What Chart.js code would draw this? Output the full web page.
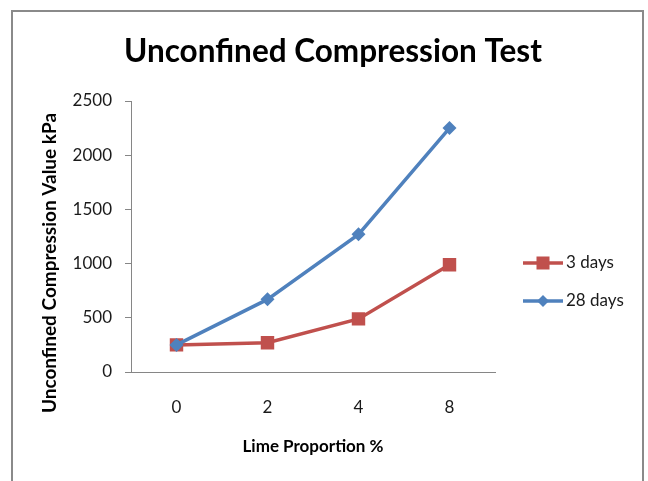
<!DOCTYPE html>
<html>
<head>
<meta charset="utf-8">
<script src="https://cdn.jsdelivr.net/npm/chart.js@4/dist/chart.umd.min.js"></script>
<style>
  html, body { margin: 0; padding: 0; background: #fff; }
  #wrap { width: 648px; height: 481px; position: relative; }
</style>
</head>
<body>
<div id="wrap"><canvas id="c" width="648" height="481"></canvas></div>
<script>
const categories = ['0', '2', '4', '8'];
const series3Days = [250, 270, 490, 990];
const series28Days = [250, 670, 1270, 2250];
const seriesNames = ['3 days', '28 days'];
const yMin = 0, yMax = 2500, yStep = 500;
const chartTitle = 'Unconfined Compression Test';
const xTitle = 'Lime Proportion %';
const yTitle = 'Unconfined Compression Value kPa';

const RED = '#C0504D';
const BLUE = '#4F81BD';
const AXIS = '#868686';
const FONT = 'Lato, "Open Sans", sans-serif';

const framePlugin = {
  id: 'frame',
  beforeDraw(chart) {
    const ctx = chart.ctx;
    ctx.save();
    ctx.strokeStyle = '#8a8a8a';
    ctx.lineWidth = 2;
    ctx.beginPath();
    ctx.moveTo(12, chart.height);
    ctx.lineTo(12, 11);
    ctx.lineTo(643, 11);
    ctx.lineTo(643, chart.height);
    ctx.stroke();
    ctx.restore();
  },
  afterDraw(chart) {
    const ctx = chart.ctx;
    const area = chart.chartArea;
    // chart title
    ctx.save();
    ctx.fillStyle = '#000';
    ctx.font = 'bold 31.5px ' + FONT;
    ctx.textAlign = 'center';
    ctx.textBaseline = 'alphabetic';
    ctx.fillText(chartTitle, 333, 62);
    ctx.restore();
    // y axis title
    ctx.save();
    ctx.fillStyle = '#000';
    ctx.font = 'bold 19px ' + FONT;
    ctx.textAlign = 'center';
    ctx.textBaseline = 'alphabetic';
    ctx.translate(56, 263);
    ctx.rotate(-Math.PI / 2);
    ctx.fillText(yTitle, 0, 0);
    ctx.restore();
    // legend
    const items = chart.data.datasets.map((ds, i) => ({ds, i}))
      .sort((a, b) => a.ds.legendOrder - b.ds.legendOrder);
    const lx = area.right + 28;
    const yStart = 263, gap = 38;
    items.forEach((it, k) => {
      const ds = it.ds;
      const y = yStart + k * gap;
      ctx.save();
      ctx.strokeStyle = ds.borderColor;
      ctx.lineWidth = ds.borderWidth;
      ctx.beginPath();
      ctx.moveTo(lx, y);
      ctx.lineTo(lx + 40, y);
      ctx.stroke();
      ctx.fillStyle = ds.backgroundColor;
      const cx = lx + 20;
      if (ds.pointStyle === 'rect') {
        ctx.fillRect(cx - 6.5, y - 6.5, 13, 13);
      } else {
        ctx.beginPath();
        ctx.moveTo(cx - 6, y);
        ctx.lineTo(cx, y - 6);
        ctx.lineTo(cx + 6, y);
        ctx.lineTo(cx, y + 6);
        ctx.closePath();
        ctx.fill();
      }
      ctx.fillStyle = '#1a1a1a';
      ctx.font = '17px ' + FONT;
      ctx.textAlign = 'left';
      ctx.textBaseline = 'middle';
      ctx.fillText(ds.label, lx + 43, y);
      ctx.restore();
    });
  }
};

new Chart(document.getElementById('c'), {
  type: 'line',
  data: {
    labels: categories,
    datasets: [
      {
        label: seriesNames[0],
        data: series3Days,
        borderColor: RED,
        backgroundColor: RED,
        pointBackgroundColor: RED,
        pointBorderColor: RED,
        pointStyle: 'rect',
        pointRadius: 9.5,
        pointBorderWidth: 0,
        borderWidth: 3.5,
        tension: 0,
        order: 1,
        legendOrder: 0
      },
      {
        label: seriesNames[1],
        data: series28Days,
        borderColor: BLUE,
        backgroundColor: BLUE,
        pointBackgroundColor: BLUE,
        pointBorderColor: BLUE,
        pointStyle: 'rectRot',
        pointRadius: 7,
        pointBorderWidth: 0,
        borderWidth: 3.5,
        tension: 0,
        order: 0,
        legendOrder: 1
      }
    ]
  },
  options: {
    responsive: false,
    animation: false,
    devicePixelRatio: 1,
    layout: { padding: { top: 101, left: 12, right: 153, bottom: 0 } },
    plugins: {
      legend: { display: false },
      tooltip: { enabled: false },
      title: { display: false }
    },
    scales: {
      x: {
        type: 'category',
        offset: true,
        grid: { display: true, drawOnChartArea: false, drawTicks: false },
        border: { display: true, color: AXIS, width: 1 },
        ticks: { color: '#1a1a1a', font: { family: FONT, size: 17 }, padding: 25, maxRotation: 0 },
        title: {
          display: true,
          text: xTitle,
          color: '#000',
          font: { family: FONT, size: 17, weight: 'bold' },
          padding: { top: 0, bottom: 24 }
        },
        afterFit(scale) { scale.height = 109; }
      },
      y: {
        min: yMin,
        max: yMax,
        grid: { display: true, drawOnChartArea: false, drawTicks: true, tickLength: 6, color: AXIS },
        border: { display: true, color: AXIS, width: 1 },
        ticks: {
          stepSize: yStep,
          color: '#1a1a1a',
          font: { family: FONT, size: 17 },
          padding: 13,
          callback: (v) => String(v)
        },
        title: { display: false },
        afterFit(scale) { scale.width = 119; }
      }
    }
  },
  plugins: [framePlugin]
});
</script>
</body>
</html>
